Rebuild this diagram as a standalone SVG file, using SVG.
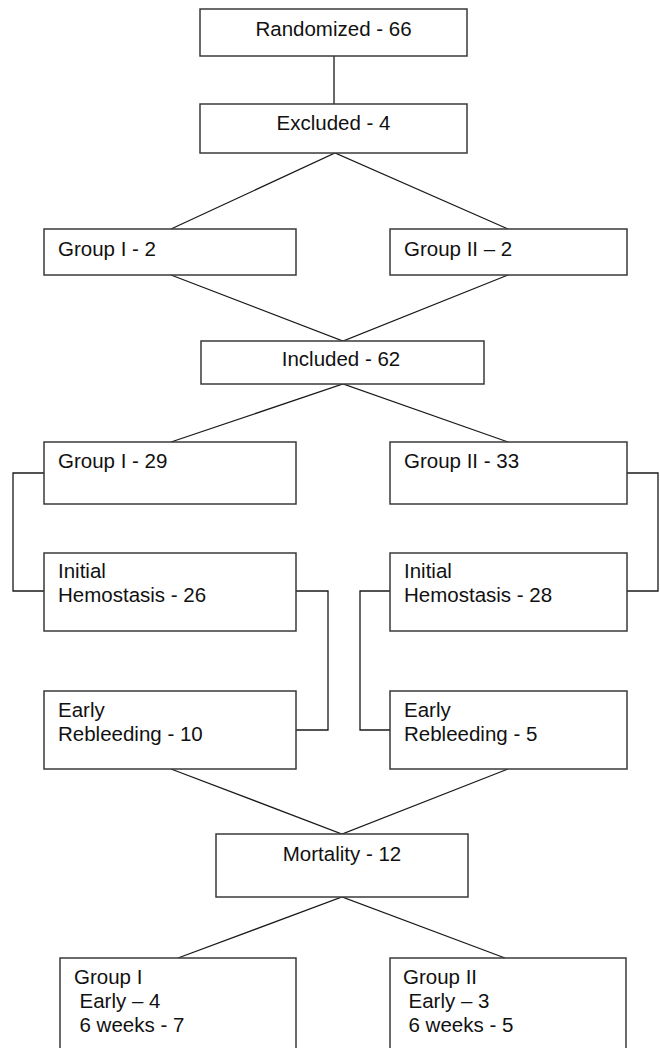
<svg xmlns="http://www.w3.org/2000/svg" width="660" height="1048" viewBox="0 0 660 1048">
<style>
.box{fill:#fff;stroke:#3a3a3a;stroke-width:1.5}
.ln{fill:none;stroke:#1a1a1a;stroke-width:1.3}
text{font-family:"Liberation Sans",Arial,sans-serif;font-size:20.5px;fill:#111}
.c{text-anchor:middle}
</style>
<rect width="660" height="1048" fill="#fff"/>
<g id="connectors">
<line class="ln" x1="334" y1="56" x2="334" y2="104"/>
<polyline class="ln" points="171,229 335,153 508,229"/>
<polyline class="ln" points="171,275 343,341 508,275"/>
<polyline class="ln" points="171,442 343,384 508,442"/>
<polyline class="ln" points="44,473 13,473 13,591 44,591"/>
<polyline class="ln" points="296,591 328,591 328,730 296,730"/>
<polyline class="ln" points="627,473 658,473 658,591 627,591"/>
<polyline class="ln" points="390,591 360,591 360,730 390,730"/>
<polyline class="ln" points="171,769 342,834 508,769"/>
<polyline class="ln" points="178,958 342,897 505,958"/>
</g>
<g id="randomized"><rect class="box" x="200" y="9" width="267" height="47"/><text class="c" x="333.5" y="35.5">Randomized - 66</text></g>
<g id="excluded"><rect class="box" x="200" y="104" width="267" height="49"/><text class="c" x="333.5" y="130">Excluded - 4</text></g>
<g id="excl-group1"><rect class="box" x="44" y="229" width="252" height="46"/><text x="58" y="256">Group I - 2</text></g>
<g id="excl-group2"><rect class="box" x="390" y="229" width="237" height="46"/><text x="404" y="256">Group II – 2</text></g>
<g id="included"><rect class="box" x="201" y="341" width="283" height="43"/><text class="c" x="341" y="366">Included - 62</text></g>
<g id="group1"><rect class="box" x="44" y="442" width="252" height="62"/><text x="58" y="467.5">Group I - 29</text></g>
<g id="group2"><rect class="box" x="390" y="442" width="237" height="62"/><text x="404" y="467.5">Group II - 33</text></g>
<g id="hemo1"><rect class="box" x="44" y="553" width="252" height="78"/><text x="58" y="578">Initial</text><text x="58" y="602">Hemostasis - 26</text></g>
<g id="hemo2"><rect class="box" x="390" y="553" width="237" height="78"/><text x="404" y="578">Initial</text><text x="404" y="602">Hemostasis - 28</text></g>
<g id="rebleed1"><rect class="box" x="44" y="691" width="252" height="78"/><text x="58" y="717">Early</text><text x="58" y="741">Rebleeding - 10</text></g>
<g id="rebleed2"><rect class="box" x="390" y="691" width="237" height="78"/><text x="404" y="717">Early</text><text x="404" y="741">Rebleeding - 5</text></g>
<g id="mortality"><rect class="box" x="216" y="834" width="252" height="63"/><text class="c" x="342" y="861">Mortality - 12</text></g>
<g id="mort-group1"><rect class="box" x="60" y="958" width="236" height="100"/><text x="74" y="983.5">Group I</text><text x="79.5" y="1008">Early – 4</text><text x="79.5" y="1032">6 weeks - 7</text></g>
<g id="mort-group2"><rect class="box" x="390" y="958" width="236" height="100"/><text x="403" y="983.5">Group II</text><text x="408.5" y="1008">Early – 3</text><text x="408.5" y="1032">6 weeks - 5</text></g>
</svg>
